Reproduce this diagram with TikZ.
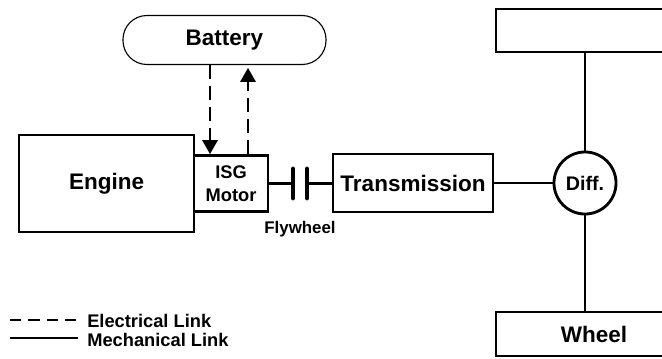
\documentclass[tikz,border=0pt]{standalone}
\usepackage{fontspec}
\setmainfont{Liberation Sans}
\usepackage{tikz}
\usetikzlibrary{arrows.meta}
\usepackage{xcolor}
\definecolor{hevInk}{HTML}{000000}
\definecolor{hevBack}{HTML}{FFFFFF}

\tikzset{
  bloque/.style={draw=hevInk, line width=2pt, inner sep=0pt, align=center,
    font=\bfseries\fontsize{16}{19}\selectfont},
  mecanico/.style={draw=hevInk, line width=1.5pt},
  electrico/.style={draw=hevInk, line width=1.4pt, dash pattern=on 10pt off 5pt},
  punta/.style={-{Triangle[length=10pt, width=11pt]}},
  leyenda/.style={anchor=west, inner sep=0pt, font=\bfseries\fontsize{13}{15}\selectfont}
}

\begin{document}
\begin{tikzpicture}[x=0.025cm, y=0.025cm]
        \useasboundingbox[fill=hevBack] (0,0) rectangle (662,358);
        % Bloques del tren motriz
        \node[bloque, draw, line width=0.8pt, rounded corners=0.6cm,
          minimum width=5.075cm, minimum height=1.225cm] (battery) at (224.5,318) {Battery};
        \node[bloque, minimum width=4.375cm, minimum height=2.425cm] (engine) at (106.5,174.5) {Engine};
        \node[bloque, minimum width=1.85cm, minimum height=1.4cm,
          font=\bfseries\fontsize{13}{16.5}\selectfont] (isg) at (231,174.5) {ISG\\Motor};
        \node[bloque, minimum width=4cm, minimum height=1.45cm] (transmission) at (413,175) {Transmission};
        \node[bloque, circle, minimum size=1.55cm,
          font=\bfseries\fontsize{14}{17}\selectfont] (diff) at (585,175) {Diff.};
        \node[bloque, minimum width=4.9cm, minimum height=1.075cm] (axleTop) at (594,327.5) {};
        \node[bloque, minimum width=4.9cm, minimum height=1.1cm] (wheel) at (594,24) {Wheel};
        % Volante de inercia
        \coordinate (fwA) at (293,174.5);
        \coordinate (fwB) at (307,174.5);
        \draw[mecanico] (isg.east) -- (fwA);
        \draw[mecanico] (fwB) -- (fwB -| transmission.west);
        \draw[hevInk, line width=3.5pt, line cap=round] (fwA) ++(0,-14.5) -- ++(0,29);
        \draw[hevInk, line width=3.5pt, line cap=round] (fwB) ++(0,-14.5) -- ++(0,29);
        \node[font=\bfseries\fontsize{12}{14}\selectfont, inner sep=0pt] (flywheel) at (300,129) {Flywheel};
        % Enlaces mecanicos
        \draw[mecanico] (transmission.east) -- (diff.west);
        \draw[mecanico] (diff.north) -- (diff.north |- axleTop.south);
        \draw[mecanico] (diff.south) -- (diff.south |- wheel.north);
        % Enlaces electricos
        \coordinate (elDown) at (210,0);
        \coordinate (elUp) at (248,0);
        \draw[electrico, punta] (elDown |- battery.south) -- (elDown |- isg.north);
        \draw[electrico, punta] (elUp |- isg.north) -- ([yshift=-2]elUp |- battery.south);
        % Leyenda
        \coordinate (legElecA) at (10,38);
        \coordinate (legElecB) at (78,38);
        \coordinate (legMecA) at (10,20);
        \coordinate (legMecB) at (78,20);
        \draw[electrico, line width=1.2pt, dash pattern=on 8pt off 5pt] (legElecA) -- (legElecB);
        \draw[mecanico, line width=1.2pt] (legMecA) -- (legMecB);
        \node[leyenda] (legElec) at (87,37) {Electrical Link};
        \node[leyenda] (legMec) at (87,18) {Mechanical Link};
      \end{tikzpicture}
\end{document}
